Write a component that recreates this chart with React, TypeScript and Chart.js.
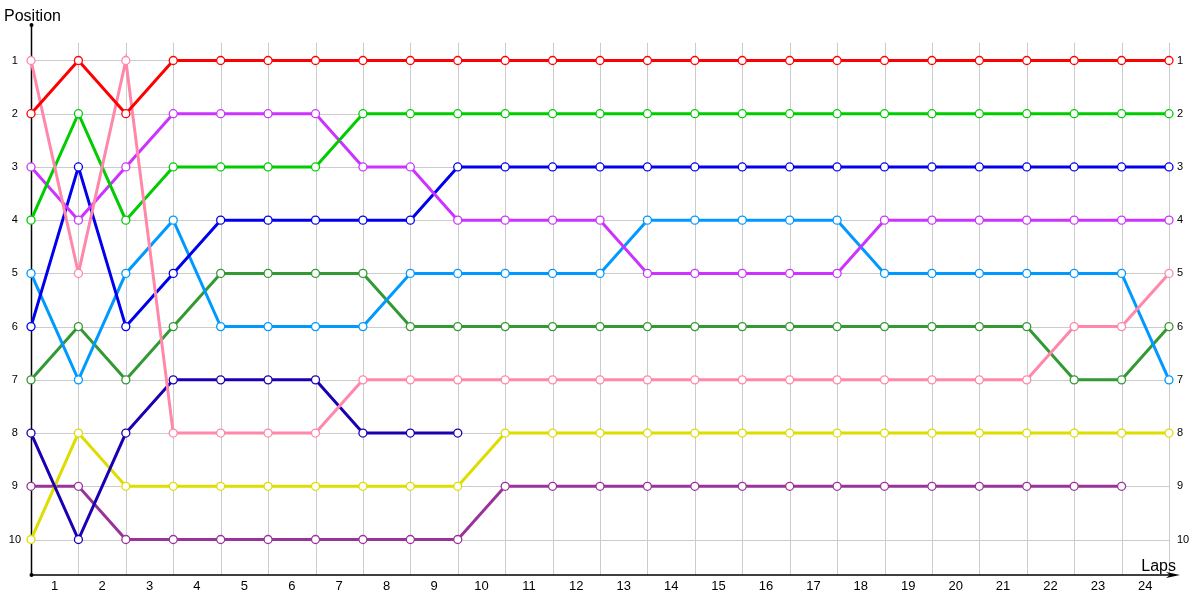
import React, { useEffect, useRef } from 'react';
import { Chart, registerables } from 'chart.js';

Chart.register(...registerables);

const laps = [0, 1, 2, 3, 4, 5, 6, 7, 8, 9, 10, 11, 12, 13, 14, 15, 16, 17, 18, 19, 20, 21, 22, 23, 24];
const lapLabels = ['1', '2', '3', '4', '5', '6', '7', '8', '9', '10', '11', '12', '13', '14', '15', '16', '17', '18', '19', '20', '21', '22', '23', '24'];
const lapTickValues = [0.5, 1.5, 2.5, 3.5, 4.5, 5.5, 6.5, 7.5, 8.5, 9.5, 10.5, 11.5, 12.5, 13.5, 14.5, 15.5, 16.5, 17.5, 18.5, 19.5, 20.5, 21.5, 22.5, 23.5];
const positionTicks = [1, 2, 3, 4, 5, 6, 7, 8, 9, 10];

const redPos = [2, 1, 2, 1, 1, 1, 1, 1, 1, 1, 1, 1, 1, 1, 1, 1, 1, 1, 1, 1, 1, 1, 1, 1, 1];
const pinkPos = [1, 5, 1, 8, 8, 8, 8, 7, 7, 7, 7, 7, 7, 7, 7, 7, 7, 7, 7, 7, 7, 7, 6, 6, 5];
const greenPos = [4, 2, 4, 3, 3, 3, 3, 2, 2, 2, 2, 2, 2, 2, 2, 2, 2, 2, 2, 2, 2, 2, 2, 2, 2];
const violetPos = [3, 4, 3, 2, 2, 2, 2, 3, 3, 4, 4, 4, 4, 5, 5, 5, 5, 5, 4, 4, 4, 4, 4, 4, 4];
const bluePos = [6, 3, 6, 5, 4, 4, 4, 4, 4, 3, 3, 3, 3, 3, 3, 3, 3, 3, 3, 3, 3, 3, 3, 3, 3];
const lightBluePos = [5, 7, 5, 4, 6, 6, 6, 6, 5, 5, 5, 5, 5, 4, 4, 4, 4, 4, 5, 5, 5, 5, 5, 5, 7];
const darkGreenPos = [7, 6, 7, 6, 5, 5, 5, 5, 6, 6, 6, 6, 6, 6, 6, 6, 6, 6, 6, 6, 6, 6, 7, 7, 6];
const darkBluePos = [8, 10, 8, 7, 7, 7, 7, 8, 8, 8];
const yellowPos = [10, 8, 9, 9, 9, 9, 9, 9, 9, 9, 8, 8, 8, 8, 8, 8, 8, 8, 8, 8, 8, 8, 8, 8, 8];
const purplePos = [9, 9, 10, 10, 10, 10, 10, 10, 10, 10, 9, 9, 9, 9, 9, 9, 9, 9, 9, 9, 9, 9, 9, 9];

const seriesNames = ['Red', 'Pink', 'Green', 'Violet', 'Blue', 'LightBlue', 'DarkGreen', 'DarkBlue', 'Yellow', 'Purple'];
const seriesValues = [redPos, pinkPos, greenPos, violetPos, bluePos, lightBluePos, darkGreenPos, darkBluePos, yellowPos, purplePos];
const seriesColors = ['#ff0000', '#ff88aa', '#00cc00', '#cc33ff', '#0000ee', '#0099ff', '#339933', '#1a00b3', '#dddd00', '#993399'];

const FONT = "'Liberation Sans', Arial, sans-serif";

function axisY(area: any) {
  return Math.round(area.bottom);
}

const framePlugin = {
  id: 'frame',
  beforeDatasetsDraw(chart: any) {
    const { ctx, chartArea } = chart;
    const x = chart.scales.x;
    const y = chart.scales.y;
    ctx.save();
    // grid
    ctx.strokeStyle = '#cccccc';
    ctx.lineWidth = 1;
    const gridTop = y.getPixelForValue(2 / 3);
    const x0 = x.getPixelForValue(laps[0]);
    const x1 = x.getPixelForValue(laps[laps.length - 1]);
    ctx.beginPath();
    for (const lap of laps) {
      const px = Math.round(x.getPixelForValue(lap)) + 0.5;
      ctx.moveTo(px, gridTop);
      ctx.lineTo(px, chartArea.bottom);
    }
    for (const p of positionTicks) {
      const py = Math.round(y.getPixelForValue(p)) + 0.5;
      ctx.moveTo(x0, py);
      ctx.lineTo(x1, py);
    }
    ctx.stroke();
    // axes
    const ax = Math.round(x0) + 0.5;
    const ay = axisY(chartArea);
    ctx.strokeStyle = '#000000';
    ctx.fillStyle = '#000000';
    ctx.lineWidth = 1.5;
    ctx.beginPath();
    ctx.moveTo(ax, chartArea.top);
    ctx.lineTo(ax, ay);
    ctx.lineTo(x1 + 6, ay);
    ctx.stroke();
    // arrow head
    ctx.beginPath();
    ctx.moveTo(x1 + 11, ay);
    ctx.lineTo(x1 - 3, ay - 3);
    ctx.lineTo(x1 + 1, ay);
    ctx.lineTo(x1 - 3, ay + 3);
    ctx.closePath();
    ctx.fill();
    // dots
    ctx.beginPath();
    ctx.arc(ax, chartArea.top, 2, 0, Math.PI * 2);
    ctx.fill();
    ctx.beginPath();
    ctx.arc(ax, ay, 2, 0, Math.PI * 2);
    ctx.fill();
    ctx.restore();
  },
  afterDraw(chart: any) {
    const { ctx, chartArea } = chart;
    ctx.save();
    ctx.fillStyle = '#000000';
    ctx.font = `16px ${FONT}`;
    ctx.textBaseline = 'alphabetic';
    ctx.textAlign = 'left';
    ctx.fillText('Position', 4, 21);
    ctx.textAlign = 'right';
    ctx.fillText('Laps', chartArea.right + 7, axisY(chartArea) - 4);
    ctx.restore();
  },
};

export default function App() {
  const ref = useRef<HTMLCanvasElement | null>(null);

  useEffect(() => {
    document.body.style.margin = '0';
    const canvas = ref.current;
    if (!canvas) return;
    const datasets = seriesValues.map((vals, si) => ({
      label: seriesNames[si],
      data: vals.map((v, i) => ({ x: laps[i], y: v })),
      borderColor: seriesColors[si],
      backgroundColor: seriesColors[si],
      borderWidth: 3,
      pointRadius: 4,
      pointBorderWidth: 1.3,
      pointBackgroundColor: '#ffffff',
      pointBorderColor: seriesColors[si],
      tension: 0,
      clip: false as any,
      yAxisID: 'y',
    }));
    const yCommon = {
      type: 'linear' as const,
      min: 1 / 3,
      max: 32 / 3,
      reverse: true,
      grid: { display: false, drawTicks: false },
      border: { display: false },
      afterBuildTicks: (scale: any) => {
        scale.ticks = positionTicks.map((v) => ({ value: v }));
      },
    };
    const chart = new Chart(canvas, {
      type: 'line',
      data: { datasets },
      options: {
        responsive: false,
        animation: false,
        layout: { padding: { top: 25, left: 0, right: 0, bottom: 0 } },
        plugins: { legend: { display: false }, tooltip: { enabled: false }, title: { display: false } },
        scales: {
          x: {
            type: 'linear',
            min: 0,
            max: 24,
            grid: { display: false, drawTicks: false },
            border: { display: false },
            afterBuildTicks: (scale: any) => {
              scale.ticks = lapTickValues.map((v) => ({ value: v }));
            },
            afterFit: (scale: any) => {
              scale.height = 25;
            },
            ticks: {
              autoSkip: false,
              maxRotation: 0,
              padding: 4,
              color: '#000000',
              font: { family: FONT, size: 13 },
              callback: (_v: any, i: number) => lapLabels[i],
            },
          },
          y: {
            ...yCommon,
            position: 'left',
            afterFit: (scale: any) => {
              scale.width = 31;
            },
            ticks: {
              padding: 10,
              crossAlign: 'center',
              color: '#000000',
              font: { family: FONT, size: 11 },
              callback: (v: any) => String(v),
            },
          },
          y2: {
            ...yCommon,
            position: 'right',
            afterFit: (scale: any) => {
              scale.width = 31;
            },
            ticks: {
              padding: 8,
              crossAlign: 'near',
              color: '#000000',
              font: { family: FONT, size: 11 },
              callback: (v: any) => String(v),
            },
          },
        } as any,
      },
      plugins: [framePlugin],
    });
    return () => chart.destroy();
  }, []);

  return (
    <div style={{ width: 1200, height: 600, background: '#ffffff' }}>
      <canvas ref={ref} width={1200} height={600} style={{ display: 'block' }} />
    </div>
  );
}
